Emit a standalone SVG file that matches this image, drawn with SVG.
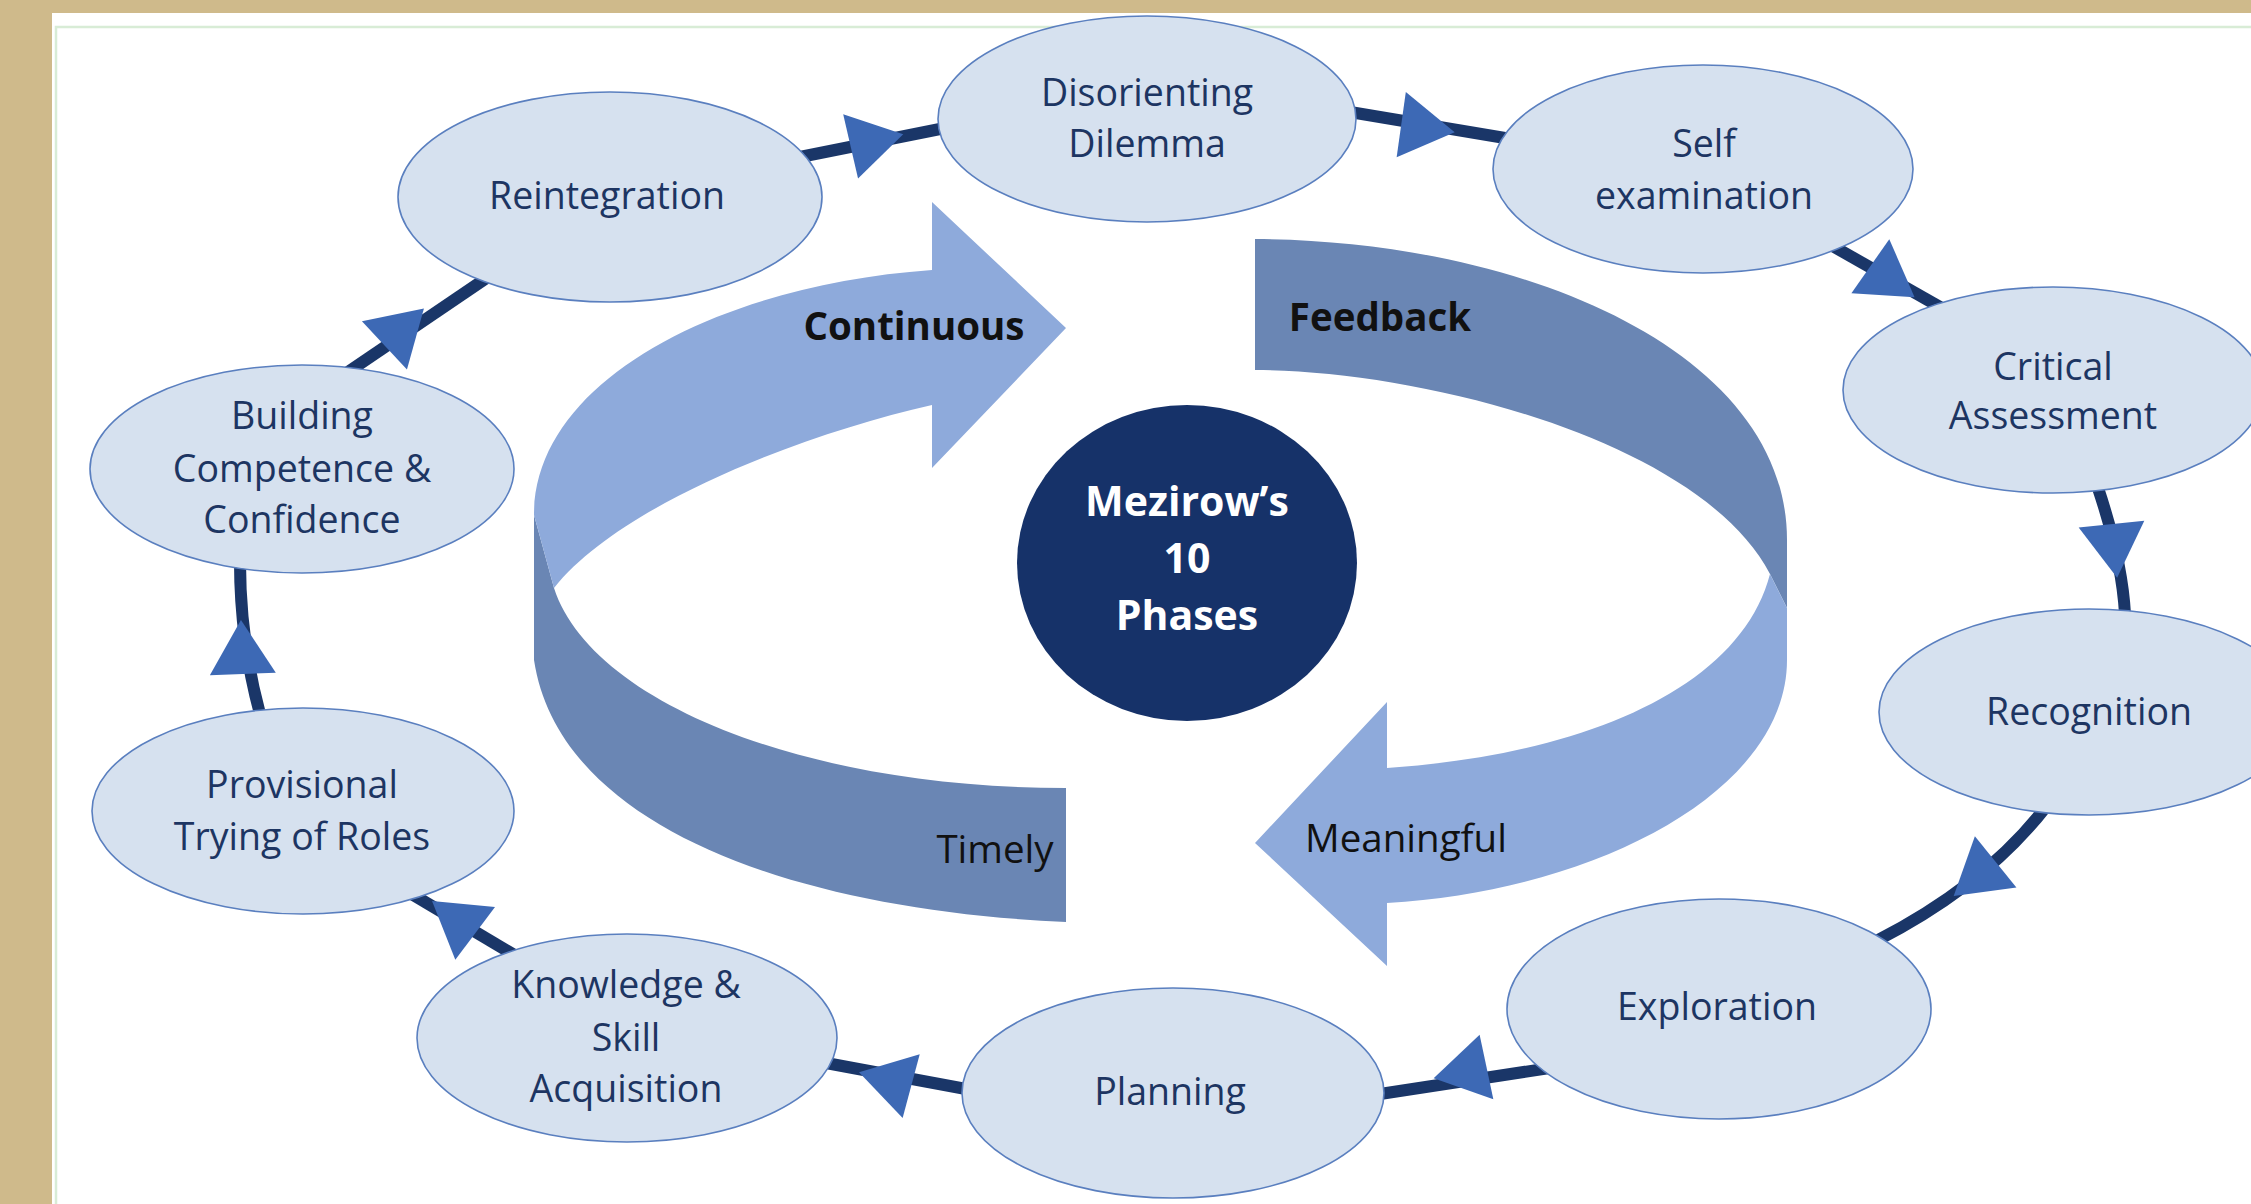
<svg xmlns="http://www.w3.org/2000/svg" width="2251" height="1204" viewBox="0 0 2251 1204">
<defs>
<style>
.node ellipse{fill:#d6e1ef;stroke:#5a7fbf;stroke-width:1.6}
.lbl{font-family:"Open Sans","Liberation Sans",sans-serif;font-size:37.5px;fill:#1d3562;text-anchor:middle}
.rib{font-family:"Open Sans","Liberation Sans",sans-serif;font-size:38.5px;fill:#111111;text-anchor:middle}
.b{font-weight:bold}
.ctr{font-family:"Open Sans","Liberation Sans",sans-serif;font-size:41px;font-weight:bold;fill:#ffffff;text-anchor:middle}
.line{fill:none;stroke:#1a3668;stroke-width:12}
.head{fill:#3d69b5}
.light{fill:#8eaadb}
.dark{fill:#6a86b4}
</style>
<polygon id="tri" points="30,0 -24,-33 -24,33"/>
</defs>
<rect x="0" y="0" width="2251" height="1204" fill="#cfba8b"/>
<rect x="52" y="13" width="2199" height="1191" fill="#ffffff"/>
<path d="M56,1204 L56,27 L2251,27" fill="none" stroke="#d8ecd6" stroke-width="2.5"/>

<g id="ribbon">
<path class="dark" d="M534,515 L554,588 C590,700 800,788 1066,788 L1066,922 C800,910 560,830 534,660 Z"/>
<path class="light" d="M534,515 C534,380 720,285 932,270 L932,202 L1066,328 L932,468 L932,405 C800,435 620,505 554,588 Z"/>
<path class="dark" d="M1255,239 C1520,240 1787,350 1787,540 L1787,608 L1770,574 C1700,440 1420,370 1255,370 Z"/>
<path class="light" d="M1770,574 L1787,608 L1787,660 C1787,790 1600,890 1387,903 L1387,966 L1255,843 L1387,702 L1387,768 C1580,755 1740,690 1770,574 Z"/>
<text class="rib b" x="914" y="340">Continuous</text>
<text class="rib b" x="1380" y="331">Feedback</text>
<text class="rib" x="995" y="863">Timely</text>
<text class="rib" x="1406" y="852">Meaningful</text>
</g>

<g id="center">
<ellipse cx="1187" cy="563" rx="170" ry="158" fill="#163269"/>
<text class="ctr" x="1187" y="516">Mezirow’s</text>
<text class="ctr" x="1187" y="573">10</text>
<text class="ctr" x="1187" y="630">Phases</text>
</g>

<g id="connectors">
<path class="line" d="M795,158 L945,128"/>
<use href="#tri" class="head" transform="translate(874,141) rotate(-13)"/>
<path class="line" d="M1350,112 L1505,138"/>
<use href="#tri" class="head" transform="translate(1425,128) rotate(8)"/>
<path class="line" d="M1822,240 L1940,307"/>
<use href="#tri" class="head" transform="translate(1890,280) rotate(35)"/>
<path class="line" d="M2098,488 Q2122,560 2125,614"/>
<use href="#tri" class="head" transform="translate(2114,548) rotate(84)"/>
<path class="line" d="M2045,808 Q1985,885 1878,940"/>
<use href="#tri" class="head" transform="translate(1977,877) rotate(141)"/>
<path class="line" d="M1602,1060 L1380,1094"/>
<use href="#tri" class="head" transform="translate(1463,1072) rotate(168)"/>
<path class="line" d="M966,1089 L826,1063"/>
<use href="#tri" class="head" transform="translate(888,1080) rotate(195)"/>
<path class="line" d="M516,956 L410,893"/>
<use href="#tri" class="head" transform="translate(456,919) rotate(217)"/>
<path class="line" d="M260,714 Q240,640 240,562"/>
<use href="#tri" class="head" transform="translate(242,650) rotate(-92)"/>
<path class="line" d="M348,372 L488,277"/>
<use href="#tri" class="head" transform="translate(402,329) rotate(-43)"/>
</g>

<g id="n-disorienting" class="node">
<ellipse cx="1147" cy="119" rx="209" ry="103"/>
<text class="lbl" x="1147" y="106">Disorienting</text>
<text class="lbl" x="1147" y="157">Dilemma</text>
</g>
<g id="n-self" class="node">
<ellipse cx="1703" cy="169" rx="210" ry="104"/>
<text class="lbl" x="1704" y="157">Self</text>
<text class="lbl" x="1704" y="209">examination</text>
</g>
<g id="n-critical" class="node">
<ellipse cx="2053" cy="390" rx="210" ry="103"/>
<text class="lbl" x="2053" y="380">Critical</text>
<text class="lbl" x="2053" y="429">Assessment</text>
</g>
<g id="n-recognition" class="node">
<ellipse cx="2089" cy="712" rx="210" ry="103"/>
<text class="lbl" x="2089" y="725">Recognition</text>
</g>
<g id="n-exploration" class="node">
<ellipse cx="1719" cy="1009" rx="212" ry="110"/>
<text class="lbl" x="1717" y="1020">Exploration</text>
</g>
<g id="n-planning" class="node">
<ellipse cx="1173" cy="1093" rx="211" ry="105"/>
<text class="lbl" x="1170" y="1105">Planning</text>
</g>
<g id="n-knowledge" class="node">
<ellipse cx="627" cy="1038" rx="210" ry="104"/>
<text class="lbl" x="626" y="998">Knowledge &amp;</text>
<text class="lbl" x="626" y="1051">Skill</text>
<text class="lbl" x="626" y="1102">Acquisition</text>
</g>
<g id="n-provisional" class="node">
<ellipse cx="303" cy="811" rx="211" ry="103"/>
<text class="lbl" x="302" y="798">Provisional</text>
<text class="lbl" x="302" y="850">Trying of Roles</text>
</g>
<g id="n-building" class="node">
<ellipse cx="302" cy="469" rx="212" ry="104"/>
<text class="lbl" x="302" y="429">Building</text>
<text class="lbl" x="302" y="482">Competence &amp;</text>
<text class="lbl" x="302" y="533">Confidence</text>
</g>
<g id="n-reintegration" class="node">
<ellipse cx="610" cy="197" rx="212" ry="105"/>
<text class="lbl" x="607" y="209">Reintegration</text>
</g>
</svg>
